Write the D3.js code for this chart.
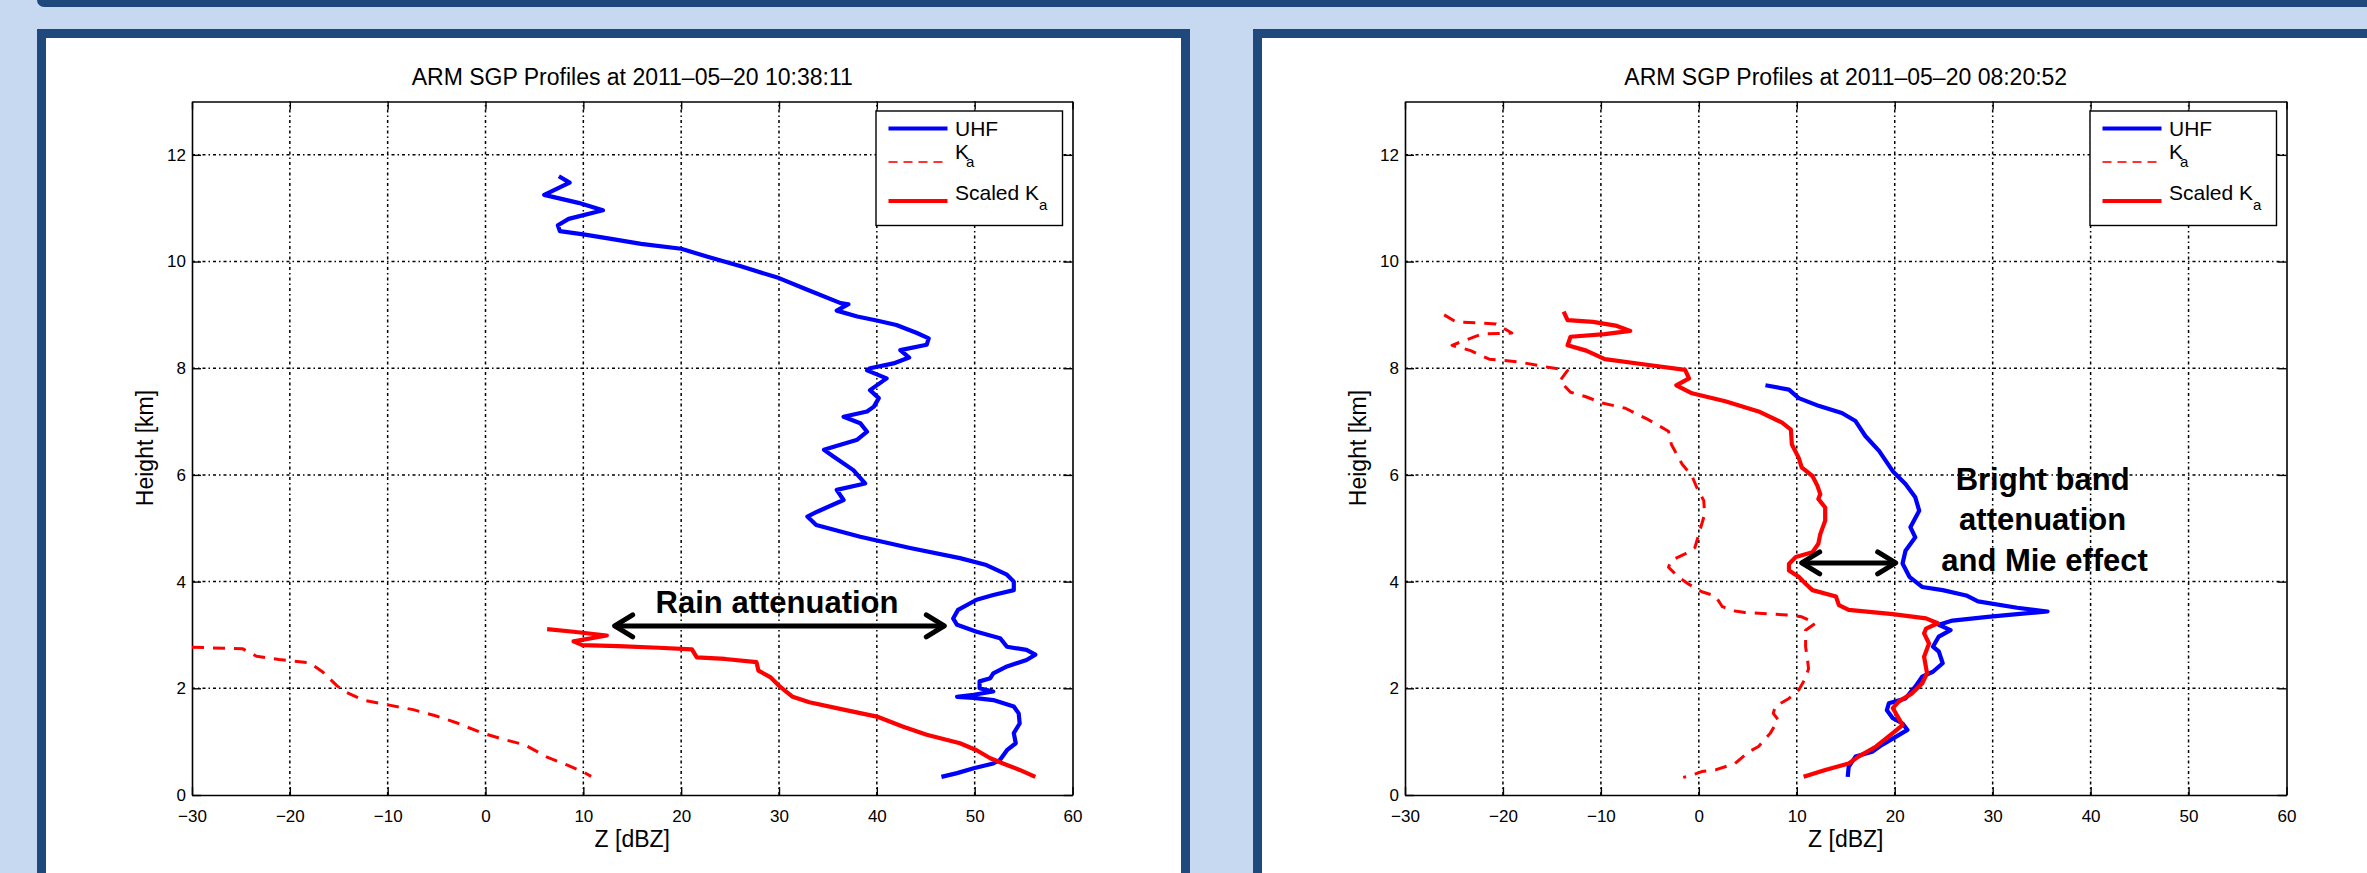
<!DOCTYPE html>
<html><head><meta charset="utf-8">
<script src="https://cdn.jsdelivr.net/npm/d3@7"></script>
<style>
body{margin:0;background:#c6d9f1;overflow:hidden;}
text{font-family:"Liberation Sans",Arial,Helvetica,sans-serif;}
</style>
</head><body>
<svg id="c" width="2367" height="873"></svg>
<script>
// ---------------- DATA ----------------
const xTicks = [-30, -20, -10, 0, 10, 20, 30, 40, 50, 60];
const yTicks = [0, 2, 4, 6, 8, 10, 12];
const xDomain = [-30, 60];
const yDomain = [0, 13];
const xLabel = "Z [dBZ]";
const yLabel = "Height [km]";
const legendNames = ["UHF", "K", "Scaled K"];
const legendSubs = ["", "a", "a"];

const leftTitle = "ARM SGP Profiles at 2011\u201305\u201320 10:38:11";
const rightTitle = "ARM SGP Profiles at 2011\u201305\u201320 08:20:52";

// [Z dBZ, height km]
const leftUHF = [[7.5,11.6],[8.6,11.48],[6.0,11.25],[9.5,11.1],[12.0,10.96],[8.5,10.8],[7.4,10.68],[7.6,10.57],[10,10.51],[13,10.42],[15.9,10.33],[20,10.24],[22.7,10.09],[26.1,9.91],[30,9.69],[32.9,9.47],[36.3,9.22],[37.1,9.2],[35.9,9.08],[38,8.97],[40.1,8.89],[42,8.81],[44.1,8.66],[45.3,8.56],[45.1,8.44],[42.4,8.34],[43.3,8.2],[41.7,8.09],[39.3,8.0],[39,7.96],[41,7.81],[39.3,7.59],[40.2,7.44],[39.7,7.28],[39,7.19],[36.6,7.09],[38.3,6.97],[39,6.81],[38,6.66],[35.6,6.53],[34.6,6.47],[35.6,6.34],[37.6,6.09],[38.8,5.84],[35.9,5.72],[36.6,5.53],[33.9,5.31],[32.9,5.22],[33.8,5.06],[38.3,4.84],[43.4,4.63],[48.5,4.44],[51.2,4.31],[53.3,4.13],[54,4.0],[54,3.84],[51.9,3.75],[50.2,3.66],[48.3,3.47],[47.8,3.31],[48.2,3.19],[50.2,3.06],[52.6,2.94],[53.3,2.78],[55.3,2.72],[56.2,2.63],[55.3,2.53],[53.3,2.41],[51.9,2.28],[51.6,2.19],[50.5,2.13],[50.5,2.0],[51.9,1.94],[49.9,1.88],[48.2,1.84],[49.9,1.82],[51.9,1.78],[54,1.66],[54.5,1.53],[54.6,1.34],[54,1.16],[54.2,0.97],[53.3,0.84],[52.6,0.66],[51.9,0.59],[49.9,0.5],[48.2,0.41],[46.6,0.34]];
const leftKa = [[-30,2.77],[-24.8,2.74],[-23.4,2.6],[-21.1,2.54],[-18,2.48],[-16.6,2.3],[-15.2,2.05],[-14.3,1.93],[-12.5,1.78],[-9.7,1.68],[-7.4,1.6],[-5.2,1.49],[-2.9,1.35],[-0.6,1.18],[1.7,1.05],[4,0.94],[6.3,0.71],[8.5,0.55],[9.9,0.44],[10.8,0.35]];
const leftScaledKa = [[6.3,3.11],[9,3.06],[12.4,2.99],[9,2.88],[9.9,2.81],[13.6,2.79],[17.7,2.76],[21.1,2.73],[21.6,2.58],[24.5,2.55],[27.7,2.49],[27.9,2.33],[29.1,2.21],[30.1,2.03],[31.4,1.84],[33.1,1.74],[36.6,1.6],[40,1.47],[42.7,1.28],[45.1,1.13],[48.5,0.97],[50.2,0.84],[51.6,0.69],[52.9,0.59],[54.6,0.47],[56.2,0.34]];

const rightUHF = [[6.8,7.68],[9.2,7.6],[10.2,7.44],[12.3,7.29],[14.6,7.16],[16,7.01],[17,6.73],[18.4,6.45],[19.8,6.07],[21.1,5.83],[22.1,5.58],[22.5,5.33],[21.6,5.02],[22.1,4.83],[21.1,4.58],[20.8,4.34],[21.5,4.09],[22.8,3.9],[24.9,3.84],[27.3,3.74],[28.5,3.63],[32.5,3.51],[35.6,3.44],[32.5,3.39],[29.5,3.34],[25.9,3.27],[24.5,3.19],[25.7,3.09],[24.5,2.97],[23.9,2.78],[24.5,2.69],[24.9,2.47],[23.9,2.31],[22.8,2.22],[22.1,2.03],[21.1,1.81],[19.4,1.72],[19.2,1.59],[19.8,1.44],[20.8,1.34],[21.3,1.22],[20.1,1.09],[18.7,0.94],[17.7,0.81],[16,0.72],[15.3,0.53],[15.2,0.34]];
const rightKa = [[-26,9.0],[-24.8,8.87],[-20.7,8.83],[-19.1,8.66],[-22.2,8.64],[-25.2,8.43],[-23.3,8.33],[-21.4,8.17],[-18.4,8.12],[-16.1,8.04],[-13.4,7.96],[-14.2,7.76],[-13.1,7.55],[-11.6,7.47],[-9.9,7.35],[-7.5,7.25],[-5.2,7.04],[-3.1,6.82],[-2.8,6.57],[-1.7,6.2],[-0.7,5.98],[-0.2,5.76],[0.5,5.52],[0.6,5.27],[0,4.89],[-0.4,4.64],[-1.4,4.52],[-2.8,4.4],[-3.1,4.27],[-2.1,4.09],[-1.1,3.96],[0.3,3.81],[1.7,3.73],[2.4,3.53],[3.7,3.45],[4.7,3.42],[9.5,3.37],[10.5,3.34],[11.9,3.22],[10.9,3.09],[10.9,2.78],[11.1,2.53],[11.2,2.37],[10.9,2.19],[10.2,1.97],[9.2,1.81],[7.8,1.66],[7.6,1.53],[8.1,1.41],[7.3,1.16],[6.1,0.91],[5.1,0.81],[3.7,0.59],[1.7,0.47],[0.3,0.44],[-0.7,0.37],[-1.6,0.33]];
const rightScaledKa = [[-13.8,9.06],[-13.4,8.9],[-10.8,8.87],[-8.5,8.8],[-7,8.7],[-9.6,8.64],[-13.1,8.59],[-13.4,8.43],[-11.5,8.33],[-9.6,8.17],[-5.5,8.07],[-1.4,7.97],[-1,7.81],[-2.3,7.68],[-0.7,7.53],[2.7,7.38],[6.1,7.19],[8.5,6.98],[9.4,6.85],[9.5,6.57],[10.2,6.32],[10.5,6.14],[11.6,5.98],[12.1,5.8],[12.4,5.64],[12.2,5.55],[12.9,5.39],[12.9,5.14],[12.4,4.89],[12.2,4.71],[11.6,4.55],[9.9,4.46],[9.2,4.33],[9.2,4.21],[10.2,4.09],[10.9,3.96],[11.6,3.84],[14,3.72],[14.3,3.56],[15.3,3.47],[19.8,3.39],[23.2,3.31],[24.4,3.22],[23.2,3.12],[23,3.03],[23.5,2.84],[23,2.59],[23.3,2.28],[22.8,2.09],[21.8,1.91],[20.4,1.75],[19.8,1.63],[20.8,1.31],[19.8,1.16],[18.1,0.91],[16.3,0.72],[15.3,0.59],[12.9,0.47],[10.7,0.34]];

// annotations: text lines with [center Z, baseline height], arrows [Z from, Z to, height]
const leftNoteLines = ["Rain attenuation"];
const leftNotePos = [[29.8, 3.41]];
const leftArrow = [13.1, 47.0, 3.17];
const rightNoteLines = ["Bright band", "attenuation", "and Mie effect"];
const rightNotePos = [[35.1, 5.72], [35.1, 4.97], [35.3, 4.20]];
const rightArrow = [10.4, 20.2, 4.35];

// ---------------- DRAW ----------------
const svg = d3.select("#c");
const DARK = "#1f497d";

// top banner box
svg.append("rect").attr("x", 41).attr("y", -40).attr("width", 2400).attr("height", 43)
  .attr("rx", 3).attr("fill", "#ffffff").attr("stroke", DARK).attr("stroke-width", 8);
// panels
svg.append("rect").attr("x", 41.5).attr("y", 33.5).attr("width", 1144).attr("height", 900)
  .attr("fill", "#ffffff").attr("stroke", DARK).attr("stroke-width", 9);
svg.append("rect").attr("x", 1257.5).attr("y", 33.5).attr("width", 1200).attr("height", 900)
  .attr("fill", "#ffffff").attr("stroke", DARK).attr("stroke-width", 9);

const FONT = '"Liberation Sans", Arial, Helvetica, sans-serif';

function drawPlot(cfg) {
  const x = d3.scaleLinear().domain(xDomain).range([cfg.x0, cfg.x1]);
  const y = d3.scaleLinear().domain(yDomain).range([795, 101.5]);
  const g = svg.append("g");

  // grid
  const grid = g.append("g").attr("stroke", "#000").attr("stroke-width", 1.5)
    .attr("stroke-dasharray", "3,3,1.5,3");
  xTicks.slice(1, -1).forEach(t => {
    grid.append("line").attr("x1", x(t)).attr("x2", x(t)).attr("y1", y(0)).attr("y2", y(13));
  });
  yTicks.slice(1).forEach(t => {
    grid.append("line").attr("x1", x(-30)).attr("x2", x(60)).attr("y1", y(t)).attr("y2", y(t));
  });

  // axes
  const styleAxis = sel => {
    sel.attr("font-family", FONT).attr("font-size", 17);
    sel.selectAll("path.domain").attr("stroke", "#000").attr("stroke-width", 1.6);
    sel.selectAll(".tick line").attr("stroke", "#000").attr("stroke-width", 1.4);
    sel.selectAll(".tick text").attr("fill", "#000");
  };
  const noLabels = sel => sel.selectAll(".tick text").remove();
  g.append("g").attr("transform", `translate(0,${y(0)})`)
    .call(d3.axisBottom(x).tickValues(xTicks).tickSizeInner(-8).tickSizeOuter(0).tickPadding(15))
    .call(styleAxis);
  g.append("g").attr("transform", `translate(0,${y(13)})`)
    .call(d3.axisTop(x).tickValues(xTicks).tickSizeInner(-8).tickSizeOuter(0))
    .call(styleAxis).call(noLabels);
  g.append("g").attr("transform", `translate(${x(-30)},0)`)
    .call(d3.axisLeft(y).tickValues(yTicks).tickSizeInner(-9).tickSizeOuter(0).tickPadding(6))
    .call(styleAxis);
  g.append("g").attr("transform", `translate(${x(60)},0)`)
    .call(d3.axisRight(y).tickValues(yTicks).tickSizeInner(-9).tickSizeOuter(0))
    .call(styleAxis).call(noLabels);

  // labels
  const cx = (cfg.x0 + cfg.x1) / 2;
  g.append("text").attr("x", cx).attr("y", 85).attr("text-anchor", "middle")
    .attr("font-size", 23).attr("fill", "#000").text(cfg.title);
  g.append("text").attr("x", cx).attr("y", 847).attr("text-anchor", "middle")
    .attr("font-size", 23).attr("fill", "#000").text(xLabel);
  g.append("text").attr("transform", `translate(${cfg.x0 - 39},${448}) rotate(-90)`)
    .attr("text-anchor", "middle").attr("font-size", 23).attr("fill", "#000").text(yLabel);

  // series
  const line = d3.line().x(d => x(d[0])).y(d => y(d[1]));
  g.append("path").datum(cfg.ka).attr("d", line).attr("fill", "none")
    .attr("stroke", "#ff0000").attr("stroke-width", 3).attr("stroke-dasharray", "12,9")
    .attr("stroke-linejoin", "round");
  g.append("path").datum(cfg.uhf).attr("d", line).attr("fill", "none")
    .attr("stroke", "#0000ff").attr("stroke-width", 4.2).attr("stroke-linejoin", "round");
  g.append("path").datum(cfg.scaled).attr("d", line).attr("fill", "none")
    .attr("stroke", "#ff0000").attr("stroke-width", 4.2).attr("stroke-linejoin", "round");

  // legend
  const lw = 186.5, lh = 114.5;
  const lg = g.append("g").attr("transform", `translate(${x(60) - 10 - lw},${y(13) + 9.5})`);
  lg.append("rect").attr("width", lw).attr("height", lh).attr("fill", "#fff")
    .attr("stroke", "#000").attr("stroke-width", 1.4);
  const lineY = [17.5, 51, 90];
  const textY = [24.5, 47.5, 89];
  const subDx = [0, -3, 0];
  const subDy = [0, 8.5, 10];
  const lStroke = ["#0000ff", "#ff3333", "#ff0000"];
  const lWidth = [4.2, 2.2, 4.2];
  const lDash = [null, "9,6", null];
  legendNames.forEach((name, i) => {
    lg.append("line").attr("x1", 12.5).attr("x2", 71.5).attr("y1", lineY[i]).attr("y2", lineY[i])
      .attr("stroke", lStroke[i]).attr("stroke-width", lWidth[i]).attr("stroke-dasharray", lDash[i]);
    const t = lg.append("text").attr("x", 79).attr("y", textY[i]).attr("font-size", 21).attr("fill", "#000");
    t.append("tspan").text(name);
    if (legendSubs[i]) {
      t.append("tspan").attr("dx", subDx[i]).attr("dy", subDy[i]).attr("font-size", 15).text(legendSubs[i]);
    }
  });

  // annotations
  cfg.noteLines.forEach((s, i) => {
    g.append("text").attr("x", x(cfg.notePos[i][0])).attr("y", y(cfg.notePos[i][1]))
      .attr("text-anchor", "middle").attr("font-size", 31).attr("font-weight", "bold")
      .attr("fill", "#000").text(s);
  });
  const [a1, a2, ah] = cfg.arrow;
  const xa = x(a1), xb = x(a2), ya = y(ah);
  const hl = 19, hw = 11;
  const ar = g.append("g").attr("stroke", "#000").attr("stroke-width", 5).attr("fill", "none")
    .attr("stroke-linecap", "round").attr("stroke-linejoin", "round");
  ar.append("line").attr("x1", xa + 2).attr("x2", xb - 2).attr("y1", ya).attr("y2", ya);
  ar.append("path").attr("d", `M${xa + hl},${ya - hw} L${xa + 1},${ya} L${xa + hl},${ya + hw}`);
  ar.append("path").attr("d", `M${xb - hl},${ya - hw} L${xb - 1},${ya} L${xb - hl},${ya + hw}`);
}

drawPlot({x0: 192, x1: 1072.5, title: leftTitle, uhf: leftUHF, ka: leftKa, scaled: leftScaledKa,
  noteLines: leftNoteLines, notePos: leftNotePos, arrow: leftArrow});
drawPlot({x0: 1405, x1: 2286.5, title: rightTitle, uhf: rightUHF, ka: rightKa, scaled: rightScaledKa,
  noteLines: rightNoteLines, notePos: rightNotePos, arrow: rightArrow});
</script>
</body></html>
